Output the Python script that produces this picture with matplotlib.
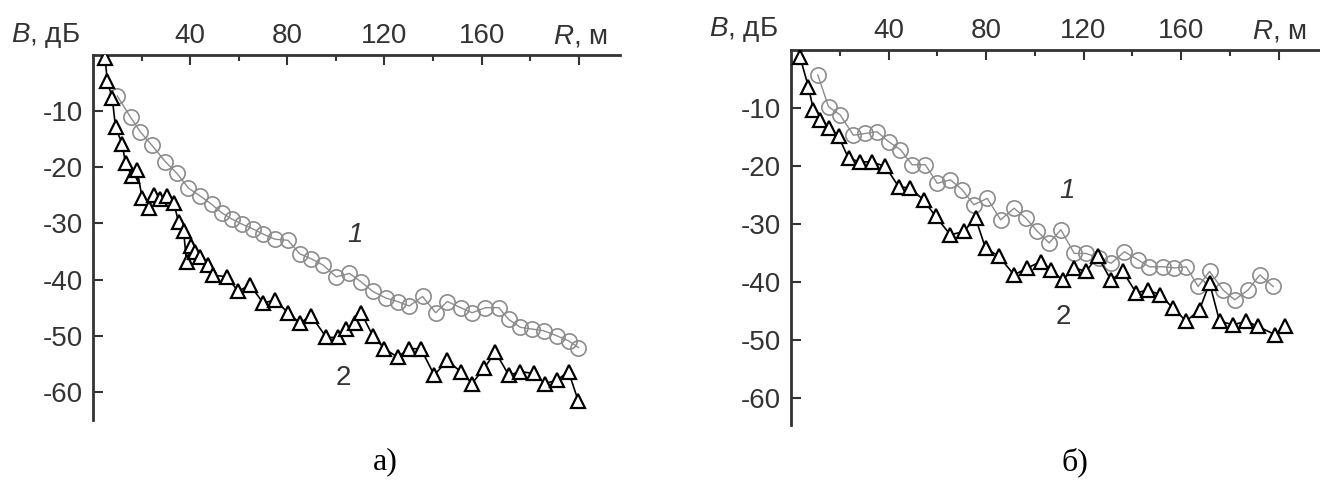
import matplotlib
matplotlib.use("Agg")
import matplotlib.pyplot as plt

plt.rcParams['font.family'] = ['Liberation Sans', 'DejaVu Sans']
plt.rcParams['axes.unicode_minus'] = False
plt.rcParams['mathtext.fontset'] = 'custom'
plt.rcParams['mathtext.it'] = 'Liberation Sans:italic'
plt.rcParams['mathtext.rm'] = 'Liberation Sans'

# panel a) curve 1 (circles) and curve 2 (triangles)
r_a1 = [10, 15.5, 19.5, 24.3, 29.8, 34.6, 39.3, 44.1, 48.9, 53, 57.1, 61.2, 66, 70.1,
        74.9, 80.3, 85.1, 89.9, 94.7, 100.2, 105.6, 110.4, 115.2, 120.7, 125.4, 130.2,
        135.7, 141.1, 145.9, 151.4, 156.1, 161.6, 167.1, 171.2, 176, 180.7, 185.5, 191,
        195.8, 199.9]
b_a1 = [-7.3, -11.1, -13.7, -16.1, -19, -21.1, -23.7, -25.1, -26.6, -28.1, -29.2, -30.1,
        -31, -31.9, -32.8, -33, -35.4, -36.3, -37.4, -39.5, -38.9, -40.4, -42.1, -43.3,
        -43.9, -44.7, -43, -45.9, -43.9, -45, -45.9, -45, -45, -47.1, -48.5, -48.8, -49.1,
        -50, -50.9, -52.1]

r_a2 = [5, 5.9, 7.9, 9.3, 12, 13.4, 16.1, 18.2, 20.2, 23, 25, 27.7, 30.5, 33.2, 35.3,
        37.3, 38.5, 40.5, 42, 44.1, 47.5, 49.6, 55.1, 59.8, 64.6, 70.1, 74.9, 80.3, 85.1,
        89.9, 96.1, 100.8, 104.3, 107.7, 110.4, 115.2, 120, 125.4, 130.2, 135, 140.5,
        145.9, 151.4, 156.1, 161, 165.7, 171.2, 176, 181.4, 186.2, 191, 195.8, 199.9]
b_a2 = [-0.6, -4.7, -7.6, -12.9, -15.8, -19.3, -21.6, -20.5, -25.4, -27.2, -24.9, -25.7,
        -25.1, -26.3, -29.8, -31.3, -36.8, -34, -35, -35.9, -37.4, -39.2, -39.5, -42.1,
        -40.9, -44.2, -43.6, -45.9, -47.7, -46.5, -50.3, -50.3, -48.8, -47.7, -45.9, -50,
        -52.3, -53.8, -52.3, -52.3, -57, -54.4, -56.4, -58.5, -55.8, -52.9, -57, -56.4,
        -56.7, -58.5, -57.9, -56.4, -61.7]

# panel б) curve 1 (circles) and curve 2 (triangles)
r_b1 = [11, 15.4, 20.2, 25.6, 30.5, 35.3, 40, 44.9, 49.7, 55.1, 60, 65.4, 70.2, 75, 80.5,
        86, 91.5, 96.3, 101.1, 105.9, 110.7, 116.2, 121, 126.5, 131.3, 136.8, 142.3, 147,
        152.5, 157.3, 162.1, 167, 171.7, 177.2, 182, 187.5, 192.3, 197.8]
b_b1 = [-4.3, -9.8, -11.2, -14.7, -14.4, -14.1, -15.8, -17.2, -19.8, -19.8, -23, -22.4,
        -24.1, -26.7, -25.6, -29.3, -27.3, -29, -31.3, -33.3, -31, -35.1, -35.1, -35.9,
        -36.8, -34.8, -36.2, -37.4, -37.4, -37.6, -37.4, -40.8, -38.2, -41.4, -43.1, -41.4,
        -38.8, -40.8]

r_b2 = [3.7, 7.1, 9.2, 11.9, 15.4, 19.5, 23.6, 28.4, 33.2, 38.7, 44.2, 49, 54.4, 59.3,
        65.4, 70.9, 75.7, 79.8, 85.3, 91.5, 97, 102.5, 106.6, 111.4, 116.2, 121, 125.8,
        131.3, 136.1, 141.6, 146.4, 151.2, 156.7, 162.1, 167.6, 171.7, 175.8, 181.4, 186.8,
        191.6, 198.5, 202.5]
b_b2 = [-1.2, -6.3, -10.3, -12.1, -13.5, -14.9, -18.7, -19.3, -19.3, -20.1, -23.6, -23.8,
        -25.9, -28.7, -31.9, -31.3, -29, -34.2, -35.6, -38.8, -37.6, -36.5, -37.9, -39.7,
        -37.6, -38.2, -35.6, -39.7, -38.2, -41.9, -41.4, -42.2, -44.5, -46.8, -44.8, -40.2,
        -46.8, -47.4, -46.8, -47.7, -49.1, -47.7]

x_major = [40, 80, 120, 160, 200]
x_labels = ['40', '80', '120', '160', '']
x_minor = [20, 60, 100, 140, 180]
y_major = [-60, -50, -40, -30, -20, -10]

W, H = 1320, 482
fig = plt.figure(figsize=(W / 100, H / 100), dpi=100)

panels = [
    dict(rect=[93 / W, 1 - 420 / H, 527 / W, 365 / H], ylim=(-65, 0),
         c=(r_a1, b_a1), t=(r_a2, b_a2), l1=(107.7, -32), l2=(103, -57.6), cap='а)', capx=385),
    dict(rect=[791 / W, 1 - 425 / H, 529 / W, 375 / H], ylim=(-64.7, 0),
         c=(r_b1, b_b1), t=(r_b2, b_b2), l1=(113.3, -24.4), l2=(111.9, -46), cap='б)', capx=1075),
]

ink = '#333333'
fs = 20
for p in panels:
    ax = fig.add_axes(p['rect'])
    ax.plot(p['c'][0], p['c'][1], color='#8c8c8c', lw=1, marker='o', ms=11,
            mfc='none', mec='#8c8c8c', mew=1.2, zorder=3)
    ax.plot(p['t'][0], p['t'][1], color='black', lw=1.2, marker='^', ms=10,
            mfc='white', mec='black', mew=1.6, zorder=4)
    ax.set_xlim(0, 217)
    ax.set_ylim(*p['ylim'])
    ax.spines['right'].set_visible(False)
    ax.spines['bottom'].set_visible(False)
    for s in ('left', 'top'):
        ax.spines[s].set_color(ink)
        ax.spines[s].set_linewidth(2)
    ax.xaxis.tick_top()
    ax.set_xticks(x_major)
    ax.set_xticklabels(x_labels)
    ax.set_xticks(x_minor, minor=True)
    ax.set_yticks(y_major)
    ax.tick_params(axis='x', which='major', direction='in', length=7, width=1.5,
                   color=ink, labelsize=fs, labelcolor=ink, pad=4)
    ax.tick_params(axis='x', which='minor', direction='in', length=4, width=1.5, color=ink)
    ax.tick_params(axis='y', direction='in', length=7, width=1.5, color=ink,
                   labelsize=fs, labelcolor=ink, pad=7)
    ax.text(p['l1'][0], p['l1'][1], '1', fontsize=fs, style='italic', color=ink,
            ha='center', va='center')
    ax.text(p['l2'][0], p['l2'][1], '2', fontsize=fs, color=ink, ha='center', va='center')
    ax.text(-0.155, 1.015, r'$\mathit{B}$, дБ', transform=ax.transAxes, fontsize=fs,
            color=ink, ha='left', va='bottom')
    ax.text(0.872, 1.015, r'$\mathit{R}$, м', transform=ax.transAxes, fontsize=fs,
            color=ink, ha='left', va='bottom')
    fig.text(p['capx'] / W, 1 - 462 / H, p['cap'], fontsize=23, family='Liberation Serif',
             ha='center', va='center')

fig.savefig('out.png', dpi=100)
